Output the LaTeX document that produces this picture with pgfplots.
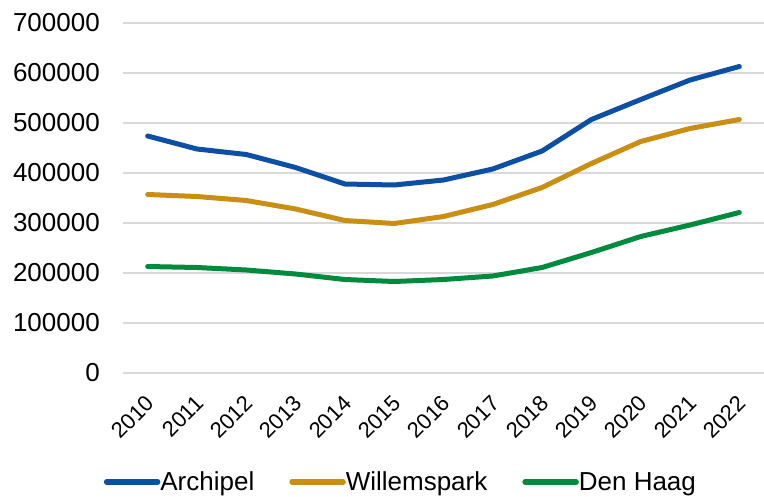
\documentclass[border=0pt]{standalone}
\usepackage{fontspec}
\setmainfont{Liberation Sans}
\usepackage{pgfplots}
\pgfplotsset{compat=1.18}
\definecolor{cblue}{HTML}{0D4FA3}
\definecolor{cgold}{HTML}{C98E14}
\definecolor{cgreen}{HTML}{008A3E}
\definecolor{cgrid}{HTML}{D9D9D9}
\newcommand{\bigf}{\fontsize{26pt}{31pt}\selectfont}
\newcommand{\xf}{\fontsize{22pt}{26pt}\selectfont}
\begin{document}
\begin{tikzpicture}
\path[use as bounding box] (-123pt,-123pt) rectangle (641pt,373pt);
\begin{axis}[
  at={(0pt,0pt)}, anchor=south west,
  scale only axis, width=641pt, height=350pt,
  xmin=-0.5, xmax=12.5, ymin=0, ymax=700000,
  axis line style={draw=none},
  ymajorgrids, grid style={cgrid, line width=1.5pt},
  ytick={0,100000,...,700000},
  yticklabel style={/pgf/number format/fixed, /pgf/number format/1000 sep={}},
  scaled y ticks=false,
  /pgf/number format/assume math mode=true,
  xtick=data,
  xticklabels={2010,2011,2012,2013,2014,2015,2016,2017,2018,2019,2020,2021,2022},
  major tick length=0pt,
  tick label style={inner sep=0pt},
  yticklabel style={font=\bigf, anchor=east, xshift=-23pt},
  xticklabel style={font=\xf, xshift=-3pt, yshift=-21pt, rotate=45, anchor=north east},
  every axis plot/.append style={line width=5pt, line join=round, line cap=round},
  legend style={at={(axis description cs:0.432,-0.311)}, anchor=center, draw=none, fill=none,
    font=\bigf, legend columns=3, nodes={inner sep=0pt, xshift=4pt},
    /tikz/every even column/.append style={column sep=35pt}},
  legend image code/.code={\draw[#1, line width=5.5pt, line cap=round] (0pt,0pt) -- (51pt,0pt);},
]
\addplot[cblue] coordinates {(0,474000)(1,448000)(2,437000)(3,411000)(4,378000)(5,376000)(6,386000)(7,408000)(8,444000)(9,507000)(10,547000)(11,586000)(12,613000)};
\addlegendentry{Archipel}
\addplot[cgold] coordinates {(0,357000)(1,353000)(2,345000)(3,328000)(4,305000)(5,299000)(6,313000)(7,337000)(8,371000)(9,419000)(10,463000)(11,489000)(12,507000)};
\addlegendentry{Willemspark}
\addplot[cgreen] coordinates {(0,213000)(1,211000)(2,206000)(3,198000)(4,187000)(5,183000)(6,187000)(7,194000)(8,211000)(9,241000)(10,273000)(11,296000)(12,321000)};
\addlegendentry{Den Haag}
\end{axis}
\end{tikzpicture}
\end{document}
